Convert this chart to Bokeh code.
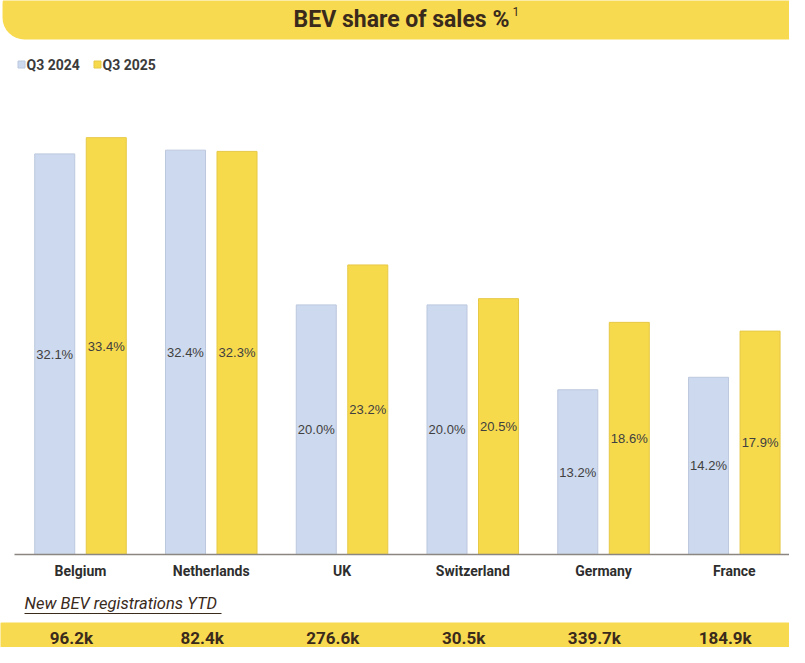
from bokeh.plotting import figure
from bokeh.models import Range1d, ColumnDataSource
from bokeh.core.properties import value
from bokeh.embed import file_html
from bokeh.resources import INLINE

# ---- data ----
countries = ["Belgium", "Netherlands", "UK", "Switzerland", "Germany", "France"]
share_2024 = [32.1, 32.4, 20.0, 20.0, 13.2, 14.2]
share_2025 = [33.4, 32.3, 23.2, 20.5, 18.6, 17.9]
registrations = ["96.2k", "82.4k", "276.6k", "30.5k", "339.7k", "184.9k"]
series = ["Q3 2024", "Q3 2025"]
title_text = "BEV share of sales %"
title_sup = "1"
subtitle_text = "New BEV registrations YTD"

# ---- style ----
BLUE = "#cdd9ee"
BLUE_LINE = "#bcc8de"
YELLOW = "#f7d94c"
YELLOW_LINE = "#e6c945"
BANNER = "#f8da50"
DARK = "#3a2a1c"
LABEL = "#404040"
FONT = "Roboto"
W, H = 789, 647

PX_PER_CAT = 130.76
PX_PER_PCT = 12.48
BASE_PAGE_Y = 562.0
X0_PAGE = 88.0 - 0.5 * PX_PER_CAT


def xd(page_x):
    return (page_x - X0_PAGE) / PX_PER_CAT


def yd(page_y):
    return (BASE_PAGE_Y - page_y) / PX_PER_PCT


p = figure(width=W, height=H,
           x_range=Range1d(xd(8), xd(8 + W)),
           y_range=Range1d(yd(8 + H), yd(8)),
           output_backend="svg", toolbar_location=None, min_border=0,
           x_axis_location=None, y_axis_location=None)
p.grid.visible = False
p.outline_line_color = None
p.background_fill_color = "white"
p.border_fill_color = "white"

n = len(countries)
centers = [i + 0.5 for i in range(n)]
OFF = 0.197
BW = 0.306

# title banner
p.quad(left=[xd(10)], right=[xd(830)], bottom=[yd(47)], top=[yd(-10)],
       fill_color=BANNER, line_color=None, border_radius=22)
p.text(x=[xd(409)], y=[yd(27)], text=[title_text], text_align="center",
       text_baseline="middle", text_font=value(FONT), text_font_style="bold",
       text_font_size="23px", text_color=DARK)
p.text(x=[xd(520)], y=[yd(19)], text=[title_sup], text_align="left",
       text_baseline="middle", text_font=value(FONT),
       text_font_size="12px", text_color=DARK)

# legend
p.scatter(x=[xd(29)], y=[yd(72)], marker="square", size=7, fill_color=BLUE,
          line_color=BLUE_LINE)
p.scatter(x=[xd(105)], y=[yd(72)], marker="square", size=7, fill_color=YELLOW,
          line_color=YELLOW_LINE)
p.text(x=[xd(34), xd(110)], y=[yd(72), yd(72)], text=series, text_align="left",
       text_baseline="middle", text_font=value(FONT), text_font_style="bold",
       text_font_size="14px", text_color="#3b3b3b")

# bars
src24 = ColumnDataSource(dict(x=[c - OFF for c in centers], top=share_2024,
                              mid=[v / 2 for v in share_2024],
                              lab=[f"{v:.1f}%" for v in share_2024]))
src25 = ColumnDataSource(dict(x=[c + OFF for c in centers], top=share_2025,
                              mid=[v / 2 for v in share_2025],
                              lab=[f"{v:.1f}%" for v in share_2025]))
p.vbar(x="x", top="top", bottom=0, width=BW, source=src24,
       fill_color=BLUE, line_color=BLUE_LINE, line_width=1)
p.vbar(x="x", top="top", bottom=0, width=BW, source=src25,
       fill_color=YELLOW, line_color=YELLOW_LINE, line_width=1)
for s in (src24, src25):
    p.text(x="x", y="mid", text="lab", source=s, text_align="center",
           text_baseline="middle", text_font=value("Liberation Sans"),
           text_font_size="13px", text_color=LABEL)

# baseline
p.segment(x0=[xd(22)], x1=[xd(820)], y0=[0], y1=[0],
          line_color="#8c8680", line_width=1.5)

# category labels
p.text(x=centers, y=[yd(578)] * n, text=countries, text_align="center",
       text_baseline="middle", text_font=value(FONT), text_font_style="bold",
       text_font_size="14px", text_color="#2e2e2e")

# subtitle (italic, underlined)
p.text(x=[xd(32)], y=[yd(611)], text=[subtitle_text], text_align="left",
       text_baseline="middle", text_font=value(FONT),
       text_font_style="italic", text_font_size="16.5px", text_color=DARK)
p.segment(x0=[xd(32)], x1=[xd(229)], y0=[yd(621)], y1=[yd(621)],
          line_color=DARK, line_width=1)

# bottom band
p.quad(left=[xd(0)], right=[xd(830)], bottom=[yd(700)], top=[yd(630)],
       fill_color=BANNER, line_color=None, border_radius=10)
p.text(x=[c - 0.07 for c in centers], y=[yd(645)] * n, text=registrations,
       text_align="center", text_baseline="middle", text_font=value(FONT),
       text_font_style="bold", text_font_size="17px", text_color=DARK)

open("out.html", "w").write(file_html(p, INLINE))
